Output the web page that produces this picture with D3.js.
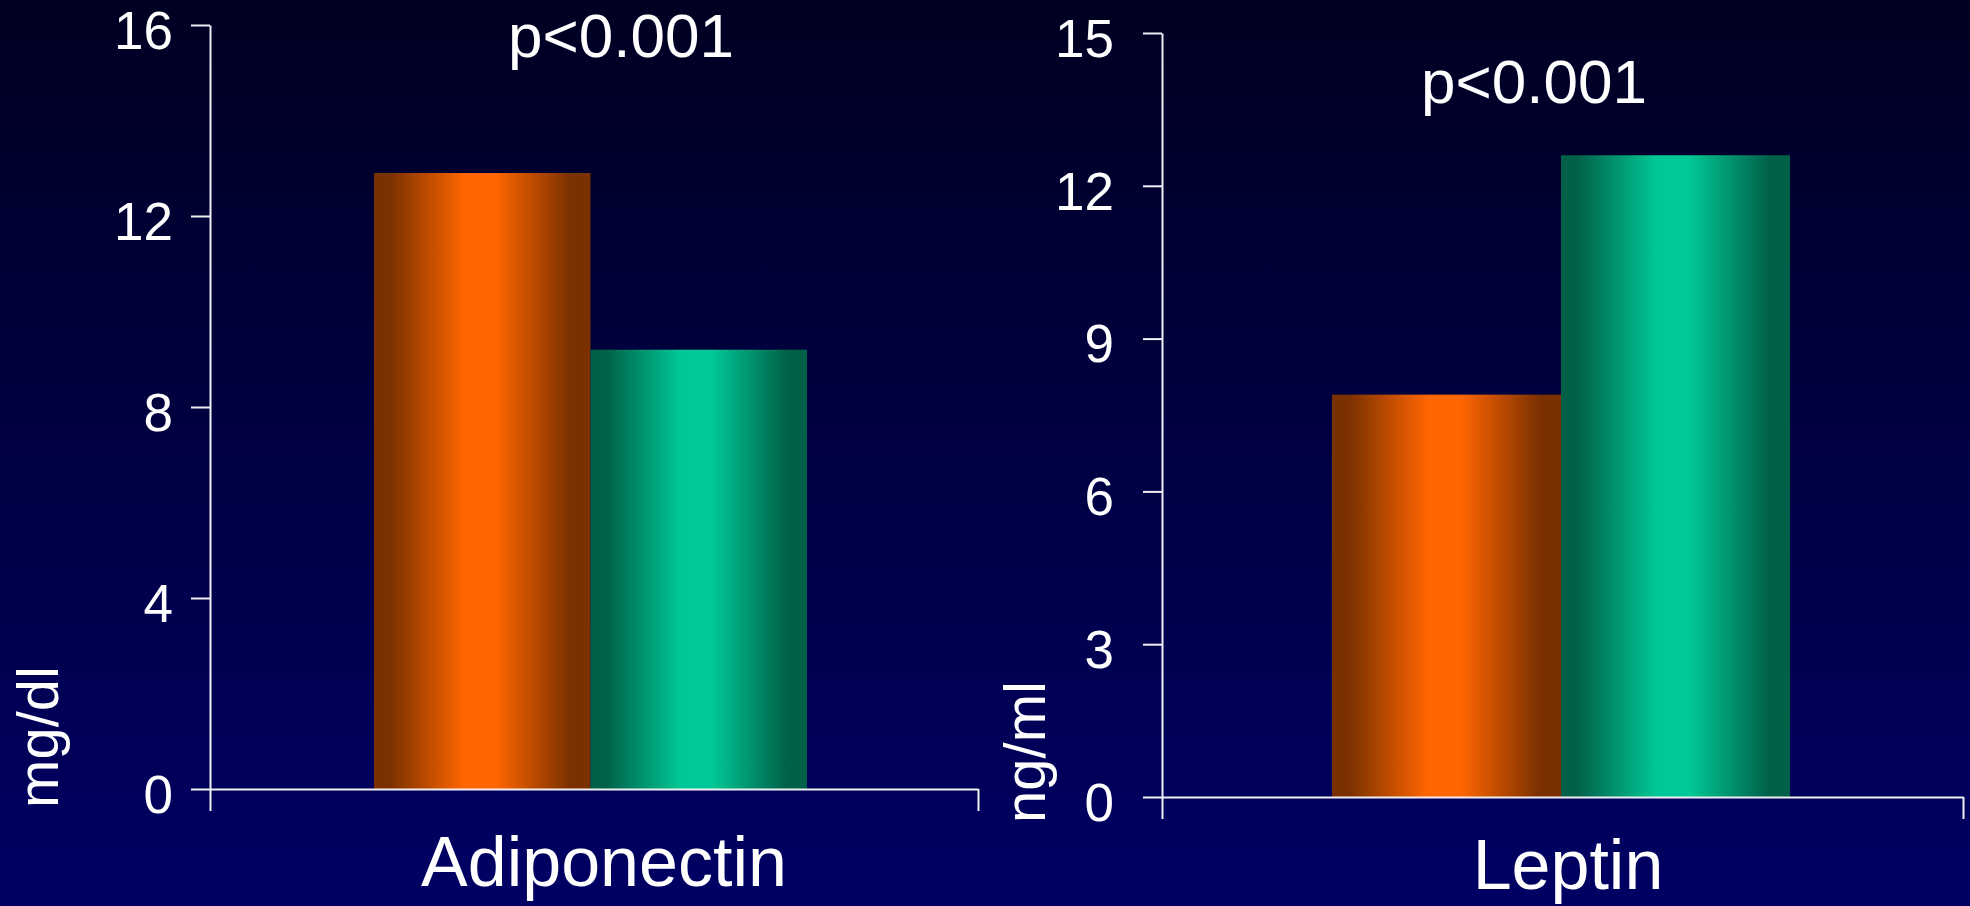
<!DOCTYPE html>
<html>
<head>
<meta charset="utf-8">
<script src="https://cdn.jsdelivr.net/npm/d3@7"></script>
<style>
  html, body { margin: 0; padding: 0; background: #000040; }
  svg { display: block; }
  text { font-family: "Liberation Sans", Arial, sans-serif; fill: #ffffff; }
</style>
</head>
<body>
<svg id="chart" width="1970" height="906"></svg>
<script>
// Panel titles, units and significance labels
const panelNames = ["Adiponectin", "Leptin"];
const unitLabels = ["mg/dl", "ng/ml"];
const pLabels = ["p<0.001", "p<0.001"];

// Two groups per panel (orange, green)
const groupNames = ["orange", "green"];
const orangeValues = [12.9, 7.9];
const greenValues = [9.2, 12.6];

// Value axes
const yMaxValues = [16, 15];
const adiponectinTicks = [0, 4, 8, 12, 16];
const leptinTicks = [0, 3, 6, 9, 12, 15];
const tickSets = [adiponectinTicks, leptinTicks];

// Geometry of each panel
const layout = [
  { axisX: 210, right: 978, yTop: 25, y0: 789, bandL: 374, bandR: 807, tickPad: 18,
    pX: 621, pY: 57, titleX: 604, titleY: 886, unitX: 58, unitY: 737 },
  { axisX: 1162, right: 1963, yTop: 33, y0: 797, bandL: 1332, bandR: 1790, tickPad: 29,
    pX: 1534, pY: 103, titleX: 1568, titleY: 889, unitX: 1045, unitY: 752 }
];

const svg = d3.select("#chart");
const W = 1970, H = 906;
const defs = svg.append("defs");

// Background: dark navy fading to deeper blue at the bottom
const bg = defs.append("linearGradient").attr("id", "bg")
  .attr("x1", 0).attr("y1", 0).attr("x2", 0).attr("y2", 1);
bg.append("stop").attr("offset", "0%").attr("stop-color", "#000022");
bg.append("stop").attr("offset", "100%").attr("stop-color", "#000064");
svg.append("rect").attr("width", W).attr("height", H).attr("fill", "url(#bg)");

// Cylinder-like shading for the bars
function barGradient(id, dark, light) {
  const g = defs.append("linearGradient").attr("id", id)
    .attr("x1", 0).attr("y1", 0).attr("x2", 1).attr("y2", 0);
  [[0, dark], [0.07, dark], [0.42, light], [0.56, light], [0.91, dark], [1, dark]]
    .forEach(([o, c]) => g.append("stop").attr("offset", o).attr("stop-color", c));
}
barGradient("grad-orange", "#7a3000", "#ff6600");
barGradient("grad-green", "#006048", "#00c896");

const axisColor = "#f0f0f4";

panelNames.forEach((name, i) => {
  const L = layout[i];
  const g = svg.append("g");

  const y = d3.scaleLinear().domain([0, yMaxValues[i]]).range([L.y0, L.yTop]);
  const x = d3.scaleBand().domain(groupNames).range([L.bandL, L.bandR]).padding(0);

  // Bars
  const values = [orangeValues[i], greenValues[i]];
  g.selectAll("rect.bar")
    .data(groupNames.map((k, j) => ({ k, v: values[j] })))
    .join("rect")
    .attr("class", "bar")
    .attr("x", d => x(d.k))
    .attr("width", x.bandwidth())
    .attr("y", d => y(d.v))
    .attr("height", d => y(0) - y(d.v))
    .attr("fill", d => `url(#grad-${d.k})`);

  // Category axis with end ticks pointing down
  const xEdge = d3.scaleLinear().domain([0, 1]).range([L.axisX, L.right]);
  const xAxis = g.append("g")
    .attr("transform", `translate(0,${L.y0})`)
    .call(d3.axisBottom(xEdge).tickValues([0, 1]).tickSize(22).tickSizeOuter(0).tickFormat(""));
  xAxis.select(".domain").attr("stroke", axisColor).attr("stroke-width", 2);
  xAxis.selectAll(".tick line").attr("stroke", axisColor).attr("stroke-width", 2);

  // Value axis
  const yAxis = g.append("g")
    .attr("transform", `translate(${L.axisX},0)`)
    .call(d3.axisLeft(y).tickValues(tickSets[i]).tickSize(19).tickSizeOuter(0)
      .tickPadding(L.tickPad).tickFormat(d3.format("d")));
  yAxis.select(".domain").attr("stroke", axisColor).attr("stroke-width", 2);
  yAxis.selectAll(".tick line").attr("stroke", axisColor).attr("stroke-width", 2);
  yAxis.selectAll(".tick text")
    .attr("fill", "#ffffff")
    .attr("dy", "0.44em")
    .style("font-size", "53px")
    .style("font-family", "'Liberation Sans', Arial, sans-serif");

  // Unit label
  g.append("text")
    .attr("transform", `translate(${L.unitX},${L.unitY}) rotate(-90)`)
    .attr("text-anchor", "middle")
    .style("font-size", "58px")
    .text(unitLabels[i]);

  // Significance label
  g.append("text")
    .attr("x", L.pX).attr("y", L.pY)
    .attr("text-anchor", "middle")
    .style("font-size", "62px")
    .text(pLabels[i]);

  // Panel title
  g.append("text")
    .attr("x", L.titleX).attr("y", L.titleY)
    .attr("text-anchor", "middle")
    .style("font-size", "70px")
    .text(name);
});
</script>
</body>
</html>
